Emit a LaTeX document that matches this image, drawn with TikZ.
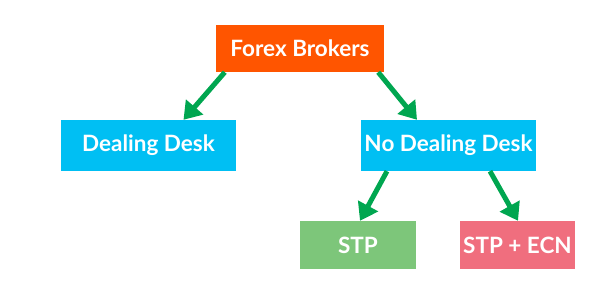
\documentclass[tikz,border=0pt]{standalone}
\usepackage{fontspec}
\setmainfont{Lato}
\usetikzlibrary{arrows.meta}

\definecolor{brokerorange}{HTML}{FF5500}
\definecolor{deskblue}{HTML}{00BFF3}
\definecolor{arrowgreen}{HTML}{00A650}
\definecolor{stpgreen}{HTML}{7DC67A}
\definecolor{ecnpink}{HTML}{F06E7E}

\tikzset{
  box/.style={rectangle, text=white, font=\fontsize{22.5}{26}\selectfont\bfseries, inner sep=0pt},
  arr/.style={draw=arrowgreen, line width=5pt, -{Triangle[length=17pt,width=22pt]}}
}

\begin{document}
\begin{tikzpicture}[x=1pt,y=-1pt]
\useasboundingbox (0,0) rectangle (600,300);

\node[box, fill=brokerorange, minimum width=168pt, minimum height=47pt] (fb) at (300,48.5) {Forex Brokers};
\node[box, fill=deskblue, minimum width=175pt, minimum height=51pt] (dd) at (148.5,145.5) {Dealing Desk};
\node[box, fill=deskblue, minimum width=175pt, minimum height=51pt] (nd) at (448.5,145.5) {No Dealing Desk};
\node[box, fill=stpgreen, minimum width=116pt, minimum height=48pt] (stp) at (358,245) {STP};
\node[box, fill=ecnpink, minimum width=115pt, minimum height=48pt] (ecn) at (517.5,245) {STP + ECN};

\draw[arr] ([xshift=9pt]fb.south west) -- ([xshift=35pt]dd.north);
\draw[arr] ([xshift=-6pt]fb.south east) -- ([xshift=-31.5pt]nd.north);
\draw[arr] ([xshift=-61.5pt]nd.south) -- ([xshift=2pt]stp.north);
\draw[arr] ([xshift=41.5pt]nd.south) -- ([xshift=0.5pt]ecn.north);
\end{tikzpicture}
\end{document}
